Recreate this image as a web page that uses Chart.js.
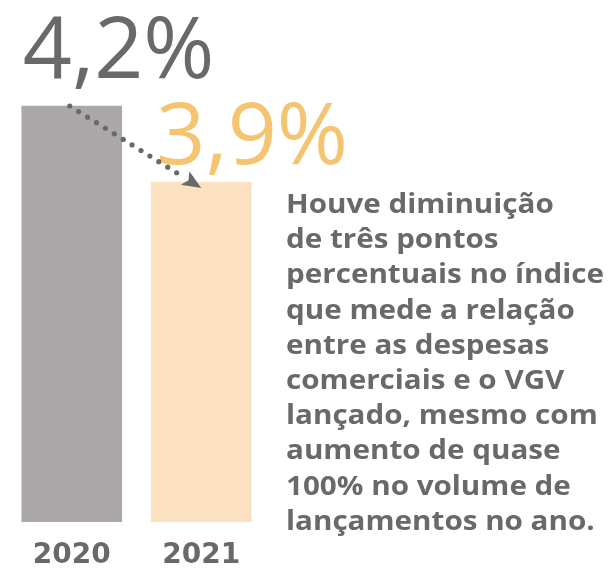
<!DOCTYPE html>
<html lang="pt">
<head>
  <meta charset="UTF-8">
  <script src="https://cdn.jsdelivr.net/npm/chart.js@4"></script>
  <title>Despesas comerciais / VGV</title>
  <style>
    body { margin: 0; background: #fff; }
  </style>
</head>
<body>
  <canvas id="myChart" width="611" height="570"></canvas>

  <script>
    const years = ['2020', '2021'];
    const values = [4.2, 3.9];
    const valueLabels = ['4,2%', '3,9%'];
    const barColors = ['#aca8a9', '#fbe1bf'];
    const labelColors = ['#686a69', '#f5c471'];
    const noteLines = [
      'Houve diminuição',
      'de três pontos',
      'percentuais no índice',
      'que mede a relação',
      'entre as despesas',
      'comerciais e o VGV',
      'lançado, mesmo com',
      'aumento de quase',
      '100% no volume de',
      'lançamentos no ano.'
    ];

    const gray = '#686a69';

    // labels, dotted arrow and side note
    const extras = {
      id: 'extras',
      afterDatasetsDraw(chart) {
        const ctx = chart.ctx;
        const bars = chart.getDatasetMeta(0).data;
        ctx.save();

        // big value labels
        ctx.textBaseline = 'alphabetic';
        ctx.textAlign = 'left';
        ctx.font = '86px "Open Sans"';
        ctx.fillStyle = labelColors[0];
        ctx.fillText(valueLabels[0], bars[0].x - bars[0].width / 2 + 1, bars[0].y - 28);
        ctx.fillStyle = labelColors[1];
        ctx.fillText(valueLabels[1], bars[1].x - bars[1].width / 2 + 5, bars[1].y - 18);

        // dotted arrow from bar 1 to bar 2
        const x0 = bars[0].x - 2, y0 = bars[0].y;
        const x1 = bars[1].x, y1 = bars[1].y + 6;
        const len = Math.hypot(x1 - x0, y1 - y0);
        const ux = (x1 - x0) / len, uy = (y1 - y0) / len;
        const head = 19;
        ctx.fillStyle = gray;
        for (let d = 0; d < len - head; d += 10.5) {
          ctx.beginPath();
          ctx.arc(x0 + ux * d, y0 + uy * d, 2.6, 0, Math.PI * 2);
          ctx.fill();
        }
        const bx = x1 - ux * head, by = y1 - uy * head;
        ctx.beginPath();
        ctx.moveTo(x1, y1);
        ctx.lineTo(bx - uy * 8, by + ux * 8);
        ctx.lineTo(bx + ux * 4, by + uy * 4);
        ctx.lineTo(bx + uy * 8, by - ux * 8);
        ctx.closePath();
        ctx.fill();

        // side note, stretched so the widest line fills the column
        ctx.font = 'bold 26px "Open Sans"';
        const widest = Math.max(...noteLines.map(l => ctx.measureText(l).width));
        const sx = 318 / widest;
        ctx.fillStyle = gray;
        ctx.translate(286, 0);
        ctx.scale(sx, 1);
        noteLines.forEach((line, i) => {
          ctx.fillText(line, 0, 213 + i * 35.2);
        });

        ctx.restore();
      }
    };

    const ctx = document.getElementById('myChart');
    const myChart = new Chart(ctx, {
      type: 'bar',
      data: {
        labels: years,
        datasets: [{
          data: values,
          backgroundColor: barColors,
          borderWidth: 0,
          barThickness: 100
        }]
      },
      options: {
        responsive: false,
        animation: false,
        layout: { padding: { left: 7, right: 345, top: 0, bottom: 0 } },
        plugins: {
          legend: { display: false },
          tooltip: { enabled: false }
        },
        scales: {
          x: {
            grid: { display: false, drawTicks: false },
            border: { display: false },
            afterFit: (scale) => { scale.height = 48; },
            ticks: {
              color: gray,
              padding: 17,
              font: { family: 'DejaVu Sans', size: 28, weight: 'bold' }
            }
          },
          y: {
            display: false,
            min: 2.56,
            max: 4.618
          }
        }
      },
      plugins: [extras]
    });
  </script>
</body>
</html>
